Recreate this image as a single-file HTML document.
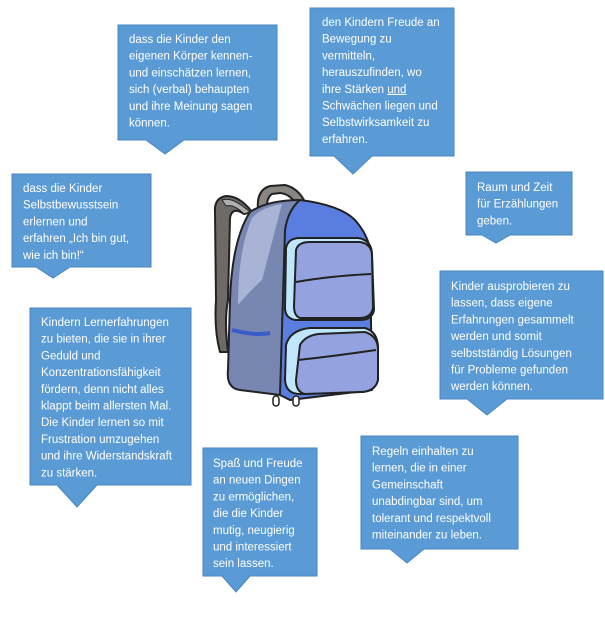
<!DOCTYPE html>
<html><head><meta charset="utf-8"><style>
html,body{margin:0;padding:0;background:#fff;}
svg{display:block}
text{font-family:"Liberation Sans",sans-serif;font-size:11.5px;fill:#fff;}
</style></head><body>
<svg width="605" height="621" viewBox="0 0 605 621" xmlns="http://www.w3.org/2000/svg">
<defs><style>.b{fill:#5b9bd5;stroke:#4a86c0;stroke-width:1}</style></defs>
<!-- Backpack -->
<g stroke="#222" stroke-width="2" stroke-linejoin="round">
<path d="M258 210 Q256 190 270 186 L285 185 Q298 188 305 202 L296 204 Q290 194 280 193 L272 194 Q266 198 267 210 Z" fill="#8a8580"/>
<path d="M252 212 Q240 196 226 196 Q214 198 215 212 L216 300 Q214 330 220 352 L228 352 Q224 320 228 300 L230 218 Q232 206 244 214 Z" fill="#6e6a66"/>
<path d="M222 200 Q232 196 250 212 L244 214 Q234 204 226 206 Z" fill="#b0b0b0" stroke-width="1"/>
<path d="M250 212 Q268 200 300 200 L320 205 L290 225 L280 395 L240 390 Q226 388 228 370 L230 300 Q232 240 250 212 Z" fill="#7886b2"/>
<path d="M252 218 Q262 207 282 204 L262 280 Q246 295 238 305 Q238 250 252 218 Z" fill="#a9b3d6" stroke="none"/>
<path d="M300 200 Q340 205 355 220 Q368 235 370 250 L372 390 L290 400 L280 395 L285 230 Q288 210 300 200 Z" fill="#5a7ee0"/>
<path d="M286 248 Q288 238 300 238 L358 238 Q372 240 372 255 L374 310 Q372 320 360 320 L295 320 Q285 318 285 308 Z" fill="#bfe6fa"/>
<path d="M296 250 Q298 242 310 242 L360 242 Q372 244 372 256 L373 308 Q371 318 360 318 L300 318 Q294 316 294 306 Z" fill="#94a3e0"/>
<path d="M296 282 Q330 276 371 274" fill="none"/>
<path d="M286 345 Q290 330 310 328 L365 328 Q378 332 378 348 L378 380 Q375 392 360 392 L300 394 Q286 394 285 380 Z" fill="#bfe6fa"/>
<path d="M300 345 Q305 336 318 334 L365 332 Q378 336 378 350 L378 380 Q375 392 360 392 L305 394 Q296 392 296 380 Z" fill="#94a3e0"/>
<path d="M298 360 Q335 356 376 350" fill="none"/>
<path d="M232 330 Q255 336 270 333" fill="none" stroke="#3a5cc8" stroke-width="4"/>
<rect x="273" y="396" width="6" height="10" rx="3" fill="#fff" stroke-width="1.5"/>
<rect x="293" y="396" width="6" height="10" rx="3" fill="#fff" stroke-width="1.5"/>
</g>
<!-- Box 1 -->
<path class="b" d="M118 25 H277 V140 H184 L165 154 L146 140 H118 Z"/>
<text x="129" y="43">dass die Kinder den</text>
<text x="129" y="59.7">eigenen Körper kennen-</text>
<text x="129" y="76.4">und einschätzen lernen,</text>
<text x="129" y="93.1">sich (verbal) behaupten</text>
<text x="129" y="109.8">und ihre Meinung sagen</text>
<text x="129" y="126.5">können.</text>
<!-- Box 2 -->
<path class="b" d="M310 8 H454 V156 H372 L353 174 L334 156 H310 Z"/>
<text x="322" y="26">den Kindern Freude an</text>
<text x="322" y="42.7">Bewegung zu</text>
<text x="322" y="59.4">vermitteln,</text>
<text x="322" y="76.1">herauszufinden, wo</text>
<text x="322" y="92.8">ihre Stärken <tspan text-decoration="underline">und</tspan></text>
<text x="322" y="109.5">Schwächen liegen und</text>
<text x="322" y="126.2">Selbstwirksamkeit zu</text>
<text x="322" y="142.9">erfahren.</text>
<!-- Box 3 -->
<path class="b" d="M12 174 H151 V267 H70 L53 278 L36 267 H12 Z"/>
<text x="23" y="192">dass die Kinder</text>
<text x="23" y="208.7">Selbstbewusstsein</text>
<text x="23" y="225.4">erlernen und</text>
<text x="23" y="242.1">erfahren „Ich bin gut,</text>
<text x="23" y="258.8">wie ich bin!“</text>
<!-- Box 4 -->
<path class="b" d="M466 172 H572 V235 H510 L496 243 L482 235 H466 Z"/>
<text x="477" y="191">Raum und Zeit</text>
<text x="477" y="207.7">für Erzählungen</text>
<text x="477" y="224.4">geben.</text>
<!-- Box 5 -->
<path class="b" d="M440 271 H603 V399 H507 L487 415 L467 399 H440 Z"/>
<text x="451" y="290">Kinder ausprobieren zu</text>
<text x="451" y="306.7">lassen, dass eigene</text>
<text x="451" y="323.4">Erfahrungen gesammelt</text>
<text x="451" y="340.1">werden und somit</text>
<text x="451" y="356.8">selbstständig Lösungen</text>
<text x="451" y="373.5">für Probleme gefunden</text>
<text x="451" y="390.2">werden können.</text>
<!-- Box 6 -->
<path class="b" d="M30 308 H191 V485 H97 L77 507 L57 485 H30 Z"/>
<text x="41" y="326">Kindern Lernerfahrungen</text>
<text x="41" y="342.7">zu bieten, die sie in ihrer</text>
<text x="41" y="359.4">Geduld und</text>
<text x="41" y="376.1">Konzentrationsfähigkeit</text>
<text x="41" y="392.8">fördern, denn nicht alles</text>
<text x="41" y="409.5">klappt beim allersten Mal.</text>
<text x="41" y="426.2">Die Kinder lernen so mit</text>
<text x="41" y="442.9">Frustration umzugehen</text>
<text x="41" y="459.6">und ihre Widerstandskraft</text>
<text x="41" y="476.3">zu stärken.</text>
<!-- Box 7 -->
<path class="b" d="M203 448 H317 V576 H250 L236 592 L222 576 H203 Z"/>
<text x="213" y="467">Spaß und Freude</text>
<text x="213" y="483.7">an neuen Dingen</text>
<text x="213" y="500.4">zu ermöglichen,</text>
<text x="213" y="517.1">die die Kinder</text>
<text x="213" y="533.8">mutig, neugierig</text>
<text x="213" y="550.5">und interessiert</text>
<text x="213" y="567.2">sein lassen.</text>
<!-- Box 8 -->
<path class="b" d="M361 436 H518 V549 H424 L407 563 L390 549 H361 Z"/>
<text x="372" y="455">Regeln einhalten zu</text>
<text x="372" y="471.7">lernen, die in einer</text>
<text x="372" y="488.4">Gemeinschaft</text>
<text x="372" y="505.1">unabdingbar sind, um</text>
<text x="372" y="521.8">tolerant und respektvoll</text>
<text x="372" y="538.5">miteinander zu leben.</text>
</svg>
</body></html>
